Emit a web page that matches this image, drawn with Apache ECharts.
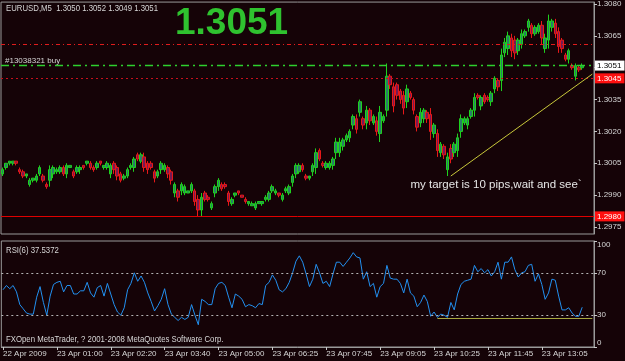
<!DOCTYPE html>
<html><head><meta charset="utf-8">
<script src="https://cdn.jsdelivr.net/npm/echarts@6.0.0/dist/echarts.min.js"></script>
<style>html,body{margin:0;padding:0;background:#150307;overflow:hidden}#c{width:625px;height:361px}</style>
</head><body><div id="c"></div>
<script>
const symbolName = 'EURUSD', timeframe = 'M5';
const categories = [
'22 Apr 23:40','22 Apr 23:45','22 Apr 23:50','22 Apr 23:55',
'23 Apr 00:00','23 Apr 00:05','23 Apr 00:10','23 Apr 00:15','23 Apr 00:20','23 Apr 00:25','23 Apr 00:30','23 Apr 00:35','23 Apr 00:40','23 Apr 00:45','23 Apr 00:50','23 Apr 00:55',
'23 Apr 01:00','23 Apr 01:05','23 Apr 01:10','23 Apr 01:15','23 Apr 01:20','23 Apr 01:25','23 Apr 01:30','23 Apr 01:35','23 Apr 01:40','23 Apr 01:45','23 Apr 01:50','23 Apr 01:55',
'23 Apr 02:00','23 Apr 02:05','23 Apr 02:10','23 Apr 02:15','23 Apr 02:20','23 Apr 02:25','23 Apr 02:30','23 Apr 02:35','23 Apr 02:40','23 Apr 02:45','23 Apr 02:50','23 Apr 02:55',
'23 Apr 03:00','23 Apr 03:05','23 Apr 03:10','23 Apr 03:15','23 Apr 03:20','23 Apr 03:25','23 Apr 03:30','23 Apr 03:35','23 Apr 03:40','23 Apr 03:45','23 Apr 03:50','23 Apr 03:55',
'23 Apr 04:00','23 Apr 04:05','23 Apr 04:10','23 Apr 04:15','23 Apr 04:20','23 Apr 04:25','23 Apr 04:30','23 Apr 04:35','23 Apr 04:40','23 Apr 04:45','23 Apr 04:50','23 Apr 04:55',
'23 Apr 05:00','23 Apr 05:05','23 Apr 05:10','23 Apr 05:15','23 Apr 05:20','23 Apr 05:25','23 Apr 05:30','23 Apr 05:35','23 Apr 05:45','23 Apr 05:50','23 Apr 05:55',
'23 Apr 06:00','23 Apr 06:05','23 Apr 06:10','23 Apr 06:15','23 Apr 06:20','23 Apr 06:25','23 Apr 06:30','23 Apr 06:35','23 Apr 06:40','23 Apr 06:45','23 Apr 06:50','23 Apr 06:55',
'23 Apr 07:00','23 Apr 07:05','23 Apr 07:10','23 Apr 07:15','23 Apr 07:20','23 Apr 07:25','23 Apr 07:30','23 Apr 07:35','23 Apr 07:40','23 Apr 07:45','23 Apr 07:50','23 Apr 07:55',
'23 Apr 08:00','23 Apr 08:05','23 Apr 08:10','23 Apr 08:15','23 Apr 08:20','23 Apr 08:25','23 Apr 08:30','23 Apr 08:35','23 Apr 08:40','23 Apr 08:45','23 Apr 08:50','23 Apr 08:55',
'23 Apr 09:00','23 Apr 09:05','23 Apr 09:10','23 Apr 09:15','23 Apr 09:20','23 Apr 09:25','23 Apr 09:30','23 Apr 09:35','23 Apr 09:40','23 Apr 09:45','23 Apr 09:50','23 Apr 09:55',
'23 Apr 10:00','23 Apr 10:05','23 Apr 10:10','23 Apr 10:15','23 Apr 10:20','23 Apr 10:25','23 Apr 10:30','23 Apr 10:35','23 Apr 10:40','23 Apr 10:45','23 Apr 10:50','23 Apr 10:55',
'23 Apr 11:00','23 Apr 11:05','23 Apr 11:10','23 Apr 11:15','23 Apr 11:20','23 Apr 11:25','23 Apr 11:30','23 Apr 11:35','23 Apr 11:40','23 Apr 11:45','23 Apr 11:50','23 Apr 11:55',
'23 Apr 12:00','23 Apr 12:05','23 Apr 12:10','23 Apr 12:15','23 Apr 12:20','23 Apr 12:25','23 Apr 12:30','23 Apr 12:35','23 Apr 12:40','23 Apr 12:45','23 Apr 12:50','23 Apr 12:55',
'23 Apr 13:00','23 Apr 13:05','23 Apr 13:10','23 Apr 13:15','23 Apr 13:20','23 Apr 13:25','23 Apr 13:30','23 Apr 13:35','23 Apr 13:40','23 Apr 13:45','23 Apr 13:50','23 Apr 13:55',
'23 Apr 14:00','23 Apr 14:05','23 Apr 14:10','23 Apr 14:15','23 Apr 14:20'
];
const opens = [
1.3000,1.3003,1.3005,1.3005,1.3006,1.3002,1.3001,1.2999,1.2995,1.2997,1.2997,1.3000,1.2999,1.2995,1.2997,1.3000,1.3001,1.3001,1.3003,1.3000,
1.3003,1.3001,1.3001,1.3002,1.3004,1.3005,1.3005,1.3003,1.3003,1.3006,1.3003,1.3003,1.3000,1.3005,1.3003,1.3000,1.2998,1.2999,1.3003,1.3003,
1.3009,1.3006,1.3008,1.3005,1.3005,1.3001,1.2999,1.3002,1.3002,1.3003,1.3001,1.2991,1.2992,1.2992,1.2991,1.2991,1.2992,1.2992,1.2988,1.2983,
1.2991,1.2989,1.2984,1.2991,1.2994,1.2995,1.2995,1.2991,1.2986,1.2990,1.2992,1.2990,1.2988,1.2986,1.2985,1.2984,1.2986,1.2986,1.2988,1.2988,
1.2992,1.2991,1.2991,1.2988,1.2992,1.2991,1.2996,1.3000,1.3001,1.3004,1.2999,1.2998,1.3001,1.3003,1.3011,1.3005,1.3003,1.3003,1.3004,1.3010,
1.3010,1.3013,1.3016,1.3017,1.3023,1.3026,1.3029,1.3026,1.3024,1.3030,1.3024,1.3025,1.3019,1.3025,1.3030,1.3046,1.3041,1.3042,1.3039,1.3037,
1.3034,1.3038,1.3035,1.3027,1.3024,1.3026,1.3029,1.3028,1.3019,1.3019,1.3010,1.3013,1.3002,1.3012,1.3010,1.3011,1.3020,1.3024,1.3023,1.3027,
1.3030,1.3037,1.3032,1.3037,1.3036,1.3034,1.3040,1.3044,1.3044,1.3057,1.3059,1.3064,1.3063,1.3058,1.3061,1.3065,1.3069,1.3070,1.3066,1.3067,
1.3070,1.3059,1.3063,1.3069,1.3071,1.3067,1.3063,1.3056,1.3054,1.3051,1.3046,1.3050,1.3050
];
const closes = [
1.3002,1.3005,1.3006,1.3006,1.3005,1.3001,1.2999,1.3000,1.2997,1.2998,1.2999,1.3003,1.2997,1.2994,1.3002,1.3003,1.3002,1.3003,1.3000,1.3004,
1.3004,1.2999,1.3003,1.3003,1.3003,1.3006,1.3003,1.3002,1.3005,1.3005,1.3004,1.3005,1.3004,1.3002,1.2999,1.2997,1.2999,1.3002,1.3004,1.3007,
1.3007,1.3009,1.3003,1.3002,1.3003,1.2998,1.3001,1.3005,1.3004,1.3000,1.2997,1.2995,1.2989,1.2995,1.2994,1.2992,1.2995,1.2987,1.2983,1.2989,
1.2988,1.2988,1.2986,1.2994,1.2997,1.2993,1.2994,1.2987,1.2988,1.2991,1.2991,1.2989,1.2987,1.2987,1.2986,1.2986,1.2987,1.2987,1.2989,1.2991,
1.2994,1.2992,1.2990,1.2990,1.2993,1.2994,1.2999,1.3004,1.3004,1.3002,1.2998,1.2999,1.3004,1.3010,1.3007,1.3004,1.3005,1.3005,1.3007,1.3015,
1.3015,1.3016,1.3018,1.3020,1.3027,1.3021,1.3034,1.3023,1.3030,1.3025,1.3027,1.3020,1.3029,1.3027,1.3046,1.3042,1.3032,1.3037,1.3035,1.3031,
1.3040,1.3036,1.3030,1.3022,1.3029,1.3030,1.3026,1.3020,1.3023,1.3011,1.3014,1.3009,1.3008,1.3007,1.3014,1.3017,1.3026,1.3026,1.3026,1.3030,
1.3036,1.3036,1.3036,1.3034,1.3035,1.3038,1.3045,1.3041,1.3056,1.3062,1.3065,1.3058,1.3057,1.3063,1.3066,1.3067,1.3072,1.3066,1.3069,1.3070,
1.3064,1.3064,1.3072,1.3072,1.3066,1.3060,1.3059,1.3054,1.3058,1.3050,1.3051,1.3049,1.3051
];
const lows = [
1.2999,1.3002,1.3004,1.3004,1.3004,1.3000,1.2998,1.2998,1.2994,1.2996,1.2996,1.2999,1.2996,1.2993,1.2994,1.2998,1.3000,1.3000,1.2999,1.2998,
1.3003,1.2998,1.3000,1.3000,1.3002,1.3004,1.3002,1.3001,1.3002,1.3004,1.3002,1.3002,1.2998,1.3000,1.2997,1.2996,1.2997,1.2998,1.3002,1.3001,
1.3006,1.3005,1.3001,1.3000,1.3002,1.2996,1.2998,1.3000,1.3001,1.2998,1.2995,1.2989,1.2987,1.2990,1.2990,1.2991,1.2991,1.2985,1.2980,1.2980,
1.2987,1.2987,1.2983,1.2989,1.2992,1.2992,1.2993,1.2985,1.2985,1.2989,1.2990,1.2989,1.2986,1.2985,1.2985,1.2983,1.2986,1.2985,1.2987,1.2987,
1.2991,1.2990,1.2989,1.2987,1.2991,1.2990,1.2994,1.2998,1.3000,1.3001,1.2997,1.2997,1.2999,1.3000,1.3006,1.3003,1.3002,1.3002,1.3002,1.3007,
1.3008,1.3011,1.3015,1.3015,1.3021,1.3019,1.3027,1.3021,1.3021,1.3023,1.3023,1.3018,1.3015,1.3024,1.3027,1.3040,1.3029,1.3035,1.3033,1.3028,
1.3031,1.3035,1.3028,1.3020,1.3022,1.3024,1.3024,1.3016,1.3017,1.3008,1.3008,1.3007,1.2999,1.3005,1.3008,1.3008,1.3017,1.3023,1.3021,1.3026,
1.3027,1.3035,1.3030,1.3033,1.3034,1.3032,1.3038,1.3039,1.3039,1.3055,1.3056,1.3055,1.3054,1.3056,1.3059,1.3064,1.3067,1.3064,1.3065,1.3066,
1.3061,1.3057,1.3059,1.3067,1.3064,1.3057,1.3057,1.3053,1.3052,1.3049,1.3044,1.3048,1.3049
];
const highs = [
1.3003,1.3005,1.3006,1.3006,1.3006,1.3003,1.3002,1.3000,1.2998,1.2998,1.3000,1.3004,1.3000,1.2996,1.3004,1.3004,1.3003,1.3004,1.3004,1.3005,
1.3004,1.3002,1.3004,1.3004,1.3004,1.3006,1.3006,1.3004,1.3006,1.3006,1.3004,1.3006,1.3005,1.3006,1.3004,1.3001,1.3000,1.3003,1.3005,1.3008,
1.3010,1.3010,1.3010,1.3006,1.3006,1.3002,1.3002,1.3006,1.3005,1.3004,1.3002,1.2996,1.2993,1.2996,1.2995,1.2992,1.2996,1.2993,1.2990,1.2991,
1.2992,1.2990,1.2987,1.2995,1.2998,1.2996,1.2996,1.2992,1.2989,1.2991,1.2992,1.2990,1.2989,1.2987,1.2987,1.2987,1.2987,1.2987,1.2990,1.2992,
1.2995,1.2993,1.2991,1.2991,1.2994,1.2995,1.3000,1.3005,1.3005,1.3005,1.3000,1.2999,1.3005,1.3012,1.3012,1.3006,1.3006,1.3006,1.3008,1.3017,
1.3017,1.3017,1.3019,1.3021,1.3028,1.3028,1.3035,1.3027,1.3032,1.3031,1.3028,1.3027,1.3032,1.3028,1.3052,1.3047,1.3043,1.3043,1.3040,1.3039,
1.3042,1.3039,1.3036,1.3028,1.3031,1.3031,1.3030,1.3031,1.3024,1.3021,1.3015,1.3014,1.3010,1.3014,1.3015,1.3019,1.3028,1.3027,1.3027,1.3031,
1.3038,1.3038,1.3037,1.3038,1.3037,1.3039,1.3046,1.3045,1.3059,1.3064,1.3067,1.3066,1.3065,1.3064,1.3068,1.3068,1.3073,1.3071,1.3070,1.3071,
1.3072,1.3066,1.3075,1.3073,1.3073,1.3069,1.3064,1.3057,1.3059,1.3052,1.3052,1.3051,1.3052
];
const rsiValues = [
54,58,55,58,52,40,36,32,31,31,47,57,42,30,48,59,61,62,52,58,
58,50,50,53,53,61,51,47,56,58,48,60,50,40,33,30,37,54,60,70,
62,67,61,51,43,34,39,45,55,40,31,28,25,28,26,28,40,30,21,45,
43,40,40,55,60,61,58,47,37,50,48,45,38,40,39,37,41,40,58,61,
68,63,54,52,55,61,70,81,86,80,69,57,64,78,70,60,62,57,69,80,
80,76,80,84,89,85,84,64,71,57,60,47,57,60,77,65,64,64,60,51,
64,51,48,38,42,49,43,29,33,28,31,30,28,42,35,50,59,62,63,64,
77,71,74,70,73,67,71,80,64,80,80,85,73,66,70,71,77,78,62,69,
59,45,51,64,63,48,35,35,37,32,29,29,37.5372
];
const priceTicks = [1.2975, 1.2990, 1.3005, 1.3020, 1.3035, 1.3050, 1.3065, 1.3080];
const priceLabelTicks = [1.2975, 1.2990, 1.3005, 1.3020, 1.3035, 1.3065, 1.3080];
const rsiTicks = [0, 30, 70, 100];
const rsiLevels = [30, 70];
const rsiPeriod = 6;
const takeProfit = 1.3061, orderPrice = 1.3051, bidPrice = 1.3051, stopLoss = 1.3045, alertPrice = 1.2980;
const orderText = '#13038321 buy';
const trendMain = [[133, 1.2999], [175, 1.3047]];
const trendRsi = [[129, 27.3], [175, 27.3]];
const notePos = [121, 1.2995];
const noteText = 'my target is 10 pips,wait and see`';
const firstTickLabel = '22 Apr 2009';
const copyrightText = 'FXOpen MetaTrader, ? 2001-2008 MetaQuotes Software Corp.';
const tickEvery = 16;

const UI = "'Liberation Sans',Arial,sans-serif";
const TXT = '#d6d6d6';
const FRAME = '#9a9a9a';
const last = closes.length - 1;
const candles = opens.map((o, i) => [o, closes[i], lows[i], highs[i]]);
const f4 = v => v.toFixed(4);
const header = symbolName + ',' + timeframe + '  ' + f4(opens[last]) + ' ' + f4(highs[last]) + ' ' + f4(lows[last]) + ' ' + f4(closes[last]);
const showTick = idx => idx % tickEvery === 0;

const chart = echarts.init(document.getElementById('c'), null, {renderer: 'canvas', width: 625, height: 361});
const boxLabel = (bg, fg) => ({show: true, position: 'end', distance: 1, opacity: 1, formatter: p => f4(p.value), backgroundColor: bg, color: fg, fontSize: 8, fontFamily: UI, padding: [1, 3, 1, 2]});
const noLine = {opacity: 0, width: 0};

chart.setOption({
  backgroundColor: '#150307',
  animation: false,
  textStyle: {fontFamily: UI},
  grid: [
    {left: 1, right: 31, top: 1, height: 233, show: true, borderColor: FRAME, borderWidth: 1},
    {left: 1, right: 31, top: 241, height: 106, show: true, borderColor: FRAME, borderWidth: 1}
  ],
  xAxis: [
    {type: 'category', gridIndex: 0, data: categories, boundaryGap: true, show: false},
    {type: 'category', gridIndex: 1, data: categories, boundaryGap: true,
     axisLine: {lineStyle: {color: FRAME}},
     axisTick: {show: true, alignWithLabel: true, interval: showTick, length: 3, lineStyle: {color: '#c8c8c8'}},
     axisLabel: {interval: showTick, align: 'left', margin: 3, color: TXT, fontSize: 8, fontFamily: UI,
       formatter: (v, i) => i === 0 ? firstTickLabel : v},
     splitLine: {show: false}}
  ],
  yAxis: [
    {type: 'value', gridIndex: 0, position: 'right', min: 1.29717, max: 1.30809, scale: true,
     axisLine: {show: true, lineStyle: {color: FRAME}},
     axisTick: {show: true, length: 3, customValues: priceTicks, lineStyle: {color: '#c8c8c8'}},
     axisLabel: {customValues: priceLabelTicks, margin: 3, color: TXT, fontSize: 8, fontFamily: UI, formatter: v => f4(v)},
     splitLine: {show: false}},
    {type: 'value', gridIndex: 1, position: 'right', min: 0, max: 100,
     axisLine: {show: true, lineStyle: {color: FRAME}},
     axisTick: {show: true, length: 3, customValues: rsiTicks, lineStyle: {color: '#c8c8c8'}},
     axisLabel: {customValues: rsiTicks, margin: 3, color: TXT, fontSize: 8, fontFamily: UI,
       verticalAlignMaxLabel: 'top', verticalAlignMinLabel: 'bottom', showMinLabel: true, showMaxLabel: true},
     splitLine: {show: false}}
  ],
  series: [
    {type: 'candlestick', xAxisIndex: 0, yAxisIndex: 0, data: candles, barWidth: 3, z: 3,
     itemStyle: {color: '#2a7d68', color0: '#751a55', borderColor: '#1ed21e', borderColor0: '#e81818', borderColorDoji: '#1ed21e', borderWidth: 1}},
    {type: 'line', name: 'levels', xAxisIndex: 0, yAxisIndex: 0, data: closes, symbol: 'none', silent: true, z: 2,
     lineStyle: noLine,
     markLine: {silent: true, symbol: ['none', 'none'], animation: false, precision: 4,
       data: [
         {yAxis: takeProfit, lineStyle: {color: '#e01c1c', width: 1, type: [4, 3, 1, 3]}, label: {show: false}},
         {yAxis: orderPrice, lineStyle: {color: '#2ed02e', width: 1.3, type: [8, 4, 2, 4]},
          label: {show: true, position: 'insideStartTop', distance: [4, 1], formatter: orderText, color: TXT, fontSize: 8, fontFamily: UI}},
         {yAxis: stopLoss, lineStyle: {color: '#c8101c', width: 1, type: [2, 3]}, label: boxLabel('#ff1010', '#ffffff')},
         {yAxis: alertPrice, lineStyle: {color: '#e00000', width: 1, type: 'solid'}, label: boxLabel('#ff1010', '#ffffff')},
         {yAxis: bidPrice, lineStyle: {color: 'rgba(0,0,0,0)', width: 1}, label: boxLabel('#ffffff', '#000000')},
         [{coord: [categories[trendMain[0][0]], trendMain[0][1]], lineStyle: {color: '#c8c83a', width: 1, type: 'solid'}, label: {show: false}},
          {coord: [categories[trendMain[1][0]], trendMain[1][1]]}]
       ]},
     markPoint: {silent: true, symbol: 'rect', symbolSize: 0.1, itemStyle: {color: 'rgba(0,0,0,0)'},
       data: [{coord: [categories[notePos[0]], notePos[1]],
         label: {show: true, position: 'right', distance: 0, formatter: noteText, color: '#e6e6e6', fontSize: 11.5, fontFamily: UI}}]}
    },
    {type: 'line', xAxisIndex: 1, yAxisIndex: 1, data: rsiValues, symbol: 'none', smooth: false,
     lineStyle: {color: '#2290f0', width: 1},
     markLine: {silent: true, symbol: ['none', 'none'], animation: false, precision: 2, label: {show: false},
       data: rsiLevels.map(v => ({yAxis: v, lineStyle: {color: '#b4b4b4', width: 1, type: [2, 3]}})).concat([
         [{coord: [categories[trendRsi[0][0]], trendRsi[0][1]], lineStyle: {color: '#a8a840', width: 1, type: 'solid'}},
          {coord: [categories[trendRsi[1][0]], trendRsi[1][1]]}]
       ])}
    }
  ],
  graphic: [
    {type: 'text', x: 6, y: 8.5, scaleX: 0.82, z: 100, style: {text: header, fill: TXT, font: '9.5px ' + UI, textVerticalAlign: 'middle', verticalAlign: 'middle'}},
    {type: 'text', x: 175, y: 23.5, z: 100, style: {text: f4(closes[last]), fill: '#2fc22f', font: 'bold 37px ' + UI, textVerticalAlign: 'middle', verticalAlign: 'middle'}},
    {type: 'text', x: 6, y: 250, scaleX: 0.82, z: 100, style: {text: 'RSI(' + rsiPeriod + ') ' + f4(rsiValues[last]), fill: TXT, font: '9.5px ' + UI, textVerticalAlign: 'middle', verticalAlign: 'middle'}},
    {type: 'text', x: 6, y: 339, scaleX: 0.82, z: 100, style: {text: copyrightText, fill: TXT, font: '9.5px ' + UI, textVerticalAlign: 'middle', verticalAlign: 'middle'}}
  ]
});
</script>
</body></html>
